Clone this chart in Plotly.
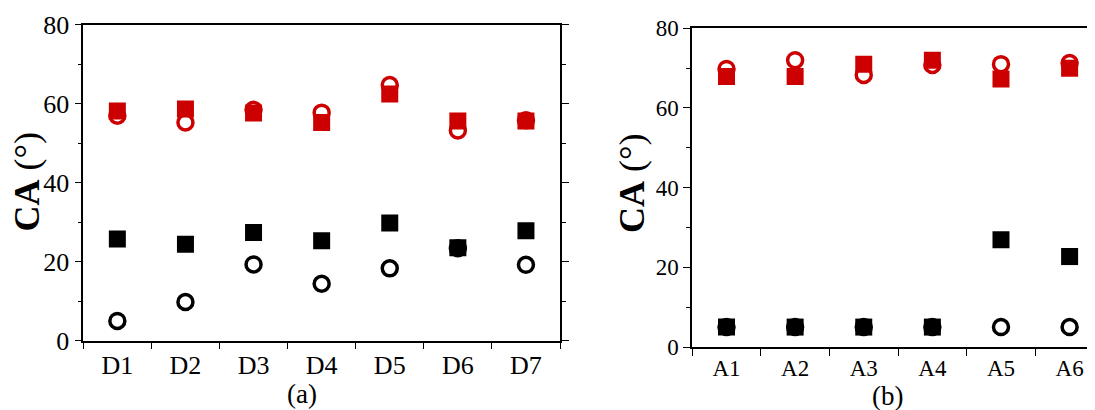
import plotly.graph_objects as go

# ---------------- data ----------------
cats_a = ["D1", "D2", "D3", "D4", "D5", "D6", "D7"]
red_sq_a = [58.1, 58.6, 57.6, 55.2, 62.4, 55.6, 55.6]
red_ci_a = [56.9, 55.2, 58.4, 57.7, 64.7, 53.2, 55.8]
blk_sq_a = [25.7, 24.4, 27.4, 25.3, 29.8, 23.5, 27.8]
blk_ci_a = [5.0, 9.8, 19.3, 14.4, 18.3, 23.4, 19.2]

cats_b = ["A1", "A2", "A3", "A4", "A5", "A6"]
red_sq_b = [67.9, 67.9, 71.0, 72.0, 67.3, 70.0]
red_ci_b = [69.8, 72.0, 68.3, 70.8, 71.0, 71.3]
blk_sq_b = [5.0, 5.0, 5.0, 5.0, 26.9, 22.7]
blk_ci_b = [5.0, 5.0, 5.0, 5.0, 5.0, 5.0]

y_ticks = [0, 20, 40, 60, 80]
panel_labels = ["(a)", "(b)"]
y_title = "<b>CA</b> (°)"

RED = "#CC0000"
BLK = "#000000"
FONT = "Liberation Serif"

# the page body adds an 8 px offset; size the figure so it fills the window
OFF = 8
W, H = 1095 - OFF, 410 - OFF

fig = go.Figure()


def add_panel(cats, rc, bc, rs, bs, xa, ya):
    for vals, col in ((rc, RED), (bc, BLK)):
        fig.add_trace(go.Scatter(
            x=cats, y=vals, mode="markers", xaxis=xa, yaxis=ya,
            marker=dict(symbol="circle", size=15, color="rgba(255,255,255,0)",
                        line=dict(color=col, width=3.5)),
            showlegend=False, hoverinfo="skip"))
    for vals, col in ((rs, RED), (bs, BLK)):
        fig.add_trace(go.Scatter(
            x=cats, y=vals, mode="markers", xaxis=xa, yaxis=ya,
            marker=dict(symbol="square", size=17, color=col,
                        line=dict(color=col, width=0)),
            showlegend=False, hoverinfo="skip"))


add_panel(cats_a, red_ci_a, blk_ci_a, red_sq_a, blk_sq_a, "x", "y")
add_panel(cats_b, red_ci_b, blk_ci_b, red_sq_b, blk_sq_b, "x2", "y2")


def px_x(p):
    return (p - OFF) / W


def px_y(p):
    return 1 - (p - OFF) / H


common_x = dict(type="category", tickson="boundaries", ticks="outside", ticklen=7,
                tickwidth=1.2, tickcolor="black", showline=True, linecolor="black",
                linewidth=1.5, showgrid=False, zeroline=False, automargin=False)
common_y = dict(range=[0, 80], tickvals=y_ticks, ticks="outside", ticklen=7,
                tickwidth=1.2, tickcolor="black", showline=True, linecolor="black",
                linewidth=1.5, showgrid=False, zeroline=False, automargin=False,
                minor=dict(ticks="outside", ticklen=4, dtick=10, tick0=0,
                           tickcolor="black", tickwidth=1.2, showgrid=False))

fig.update_layout(
    template="none",
    width=W, height=H,
    margin=dict(l=0, r=0, t=0, b=0, autoexpand=False),
    paper_bgcolor="white", plot_bgcolor="white",
    xaxis=dict(common_x, domain=[px_x(83.3), px_x(560)], anchor="y",
               categoryorder="array", categoryarray=cats_a, range=[-0.5, 6.5],
               mirror=True, tickfont=dict(family=FONT, size=26, color="black")),
    yaxis=dict(common_y, domain=[px_y(340.7), px_y(24.5)], anchor="x",
               mirror="allticks", tickfont=dict(family=FONT, size=26, color="black")),
    xaxis2=dict(common_x, domain=[px_x(692.2), 1.0], anchor="y2",
                categoryorder="array", categoryarray=cats_b, range=[-0.5, 5.37],
                mirror=True, tickfont=dict(family=FONT, size=23, color="black")),
    yaxis2=dict(common_y, domain=[px_y(347), px_y(28.3)], anchor="x2",
                mirror=False, tickfont=dict(family=FONT, size=23, color="black")),
    annotations=[
        dict(text=y_title, textangle=-90, xref="paper", yref="paper",
             x=px_x(27), y=px_y(182.5), xanchor="center", yanchor="middle",
             showarrow=False, font=dict(family=FONT, size=36, color="black")),
        dict(text=y_title, textangle=-90, xref="paper", yref="paper",
             x=px_x(632), y=px_y(184), xanchor="center", yanchor="middle",
             showarrow=False, font=dict(family=FONT, size=36, color="black")),
        dict(text=panel_labels[0], xref="paper", yref="paper",
             x=px_x(302), y=px_y(394), xanchor="center", yanchor="middle",
             showarrow=False, font=dict(family=FONT, size=27, color="black")),
        dict(text=panel_labels[1], xref="paper", yref="paper",
             x=px_x(887), y=px_y(396), xanchor="center", yanchor="middle",
             showarrow=False, font=dict(family=FONT, size=27, color="black")),
    ],
)

fig.write_html("out.html")
